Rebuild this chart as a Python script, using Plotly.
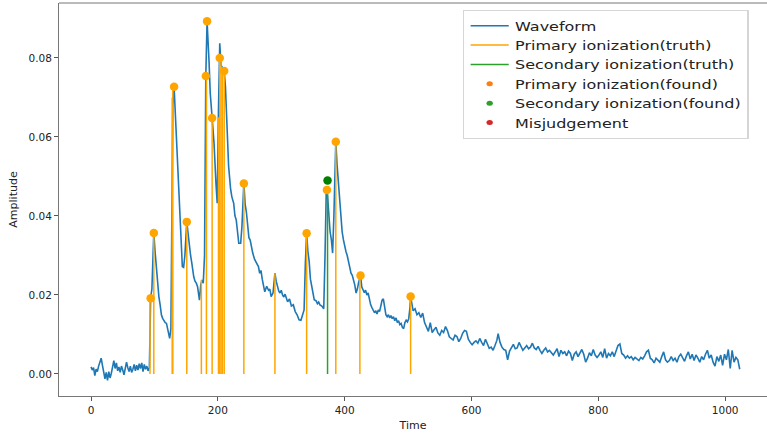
import plotly.graph_objects as go

# ---------------- data ----------------
wave_t = [0, 2, 4, 6, 8, 10, 12, 14, 16, 18, 20, 22, 24, 26, 28, 30, 32, 34, 36, 38,
          40, 42, 44, 46, 48, 50, 52, 54, 56, 58, 60, 62, 64, 66, 68, 70, 72, 74, 76, 78,
          80, 82, 84, 86, 88, 90, 92, 93, 94, 96, 98, 99, 101, 103, 105, 107, 109, 111, 113, 115,
          117, 119, 121, 123, 124, 126, 128, 129, 131, 133, 135, 137, 139, 141, 143, 144, 146, 148, 151, 153,
          155, 157, 159, 161, 162, 164, 166, 168, 170, 171, 173, 175, 177, 179, 181, 183, 186, 188, 191, 194,
          197, 199, 201, 203, 205, 208, 210, 212, 214, 217, 220, 222, 225, 227, 229, 231, 233, 236, 238, 241,
          243, 245, 247, 249, 251, 253, 255, 258, 261, 264, 266, 268, 270, 272, 274, 277, 280, 282, 284, 287,
          290, 292, 294, 296, 298, 300, 302, 304, 306, 308, 310, 313, 316, 319, 322, 325, 328, 331, 334, 336,
          338, 340, 342, 344, 346, 348, 350, 352, 355, 357, 359, 361, 364, 367, 369, 371, 373, 375, 377, 379,
          381, 383, 386, 388, 390, 392, 394, 396, 398, 400, 402, 404, 406, 408, 410, 412, 414, 416, 418, 420,
          422, 425, 427, 429, 431, 433, 435, 437, 439, 441, 443, 445, 447, 449, 451, 453, 455, 457, 459, 461,
          463, 465, 467, 469, 471, 473, 475, 477, 479, 481, 483, 485, 487, 489, 491, 493, 495, 497, 499, 501,
          503, 504, 508, 511, 514, 517, 520, 523, 526, 529, 532, 535, 538, 541, 544, 547, 550, 553, 556, 559,
          562, 565, 568, 571, 574, 577, 580, 583, 586, 589, 592, 595, 598, 601, 604, 607, 610, 613, 616, 619,
          622, 625, 628, 631, 634, 637, 640, 642, 645, 648, 651, 654, 657, 660, 663, 666, 669, 672, 675, 678,
          681, 684, 687, 690, 693, 696, 699, 702, 705, 708, 711, 714, 717, 720, 723, 726, 729, 732, 735, 738,
          741, 744, 747, 750, 753, 756, 759, 762, 765, 768, 771, 774, 777, 780, 783, 786, 789, 792, 795, 798,
          801, 804, 807, 810, 813, 816, 819, 822, 825, 828, 831, 834, 837, 840, 843, 846, 849, 852, 855, 858,
          861, 864, 867, 870, 873, 876, 879, 882, 885, 888, 891, 894, 897, 900, 903, 906, 909, 912, 915, 918,
          921, 924, 927, 930, 933, 936, 939, 942, 945, 948, 951, 954, 957, 960, 963, 966, 969, 972, 975, 978,
          981, 984, 987, 990, 993, 996, 999, 1002, 1005, 1008, 1011, 1014, 1017, 1020, 1023]

wave_amp = [0.0018, 0.0010, 0.0016, -0.0004, 0.0012, 0.0006, 0.0020, 0.0032, 0.0040, 0.0022,
            0.0008, -0.0012, 0.0004, -0.0016, 0.0006, -0.0010, 0.0002, 0.0024, 0.0034, 0.0014,
            0.0028, 0.0008, 0.0018, 0.0004, 0.0020, 0.0010, -0.0002, 0.0014, 0.0030, 0.0016,
            0.0006, 0.0020, 0.0004, 0.0012, 0.0024, 0.0008, 0.0022, 0.0010, 0.0026, 0.0014,
            0.0028, 0.0006, 0.0024, 0.0012, 0.0020, 0.0008, 0.0016, 0.0100, 0.0192, 0.0215,
            0.0330, 0.0357, 0.0310, 0.0270, 0.0225, 0.0196, 0.0175, 0.0150, 0.0141, 0.0135,
            0.0130, 0.0128, 0.0115, 0.0100, 0.0090, 0.0115, 0.0420, 0.0680, 0.0727, 0.0660,
            0.0590, 0.0520, 0.0449, 0.0381, 0.0300, 0.0272, 0.0270, 0.0300, 0.0385, 0.0350,
            0.0331, 0.0300, 0.0280, 0.0255, 0.0246, 0.0235, 0.0230, 0.0221, 0.0192, 0.0187,
            0.0225, 0.0238, 0.0230, 0.0300, 0.0754, 0.0893, 0.0795, 0.0711, 0.0648, 0.0584,
            0.0483, 0.0432, 0.0668, 0.0837, 0.0782, 0.0774, 0.0767, 0.0727, 0.0626, 0.0525,
            0.0470, 0.0449, 0.0432, 0.0400, 0.0390, 0.0360, 0.0331, 0.0331, 0.0373, 0.0483,
            0.0430, 0.0410, 0.0370, 0.0345, 0.0339, 0.0320, 0.0306, 0.0290, 0.0280, 0.0272,
            0.0255, 0.0262, 0.0240, 0.0225, 0.0208, 0.0222, 0.0212, 0.0215, 0.0196, 0.0205,
            0.0255, 0.0235, 0.0220, 0.0210, 0.0205, 0.0212, 0.0200, 0.0195, 0.0202, 0.0190,
            0.0183, 0.0190, 0.0172, 0.0175, 0.0158, 0.0150, 0.0137, 0.0136, 0.0150, 0.0162,
            0.0280, 0.0356, 0.0310, 0.0285, 0.0240, 0.0220, 0.0200, 0.0188, 0.0185, 0.0178,
            0.0182, 0.0175, 0.0172, 0.0165, 0.0300, 0.0466, 0.0450, 0.0390, 0.0360, 0.0340,
            0.0306, 0.0400, 0.0588, 0.0530, 0.0490, 0.0430, 0.0400, 0.0360, 0.0340, 0.0320,
            0.0310, 0.0300, 0.0285, 0.0270, 0.0255, 0.0250, 0.0238, 0.0225, 0.0205, 0.0215,
            0.0232, 0.0249, 0.0220, 0.0212, 0.0206, 0.0212, 0.0200, 0.0205, 0.0188, 0.0175,
            0.0168, 0.0160, 0.0155, 0.0160, 0.0152, 0.0162, 0.0158, 0.0172, 0.0187, 0.0190,
            0.0170, 0.0150, 0.0145, 0.0150, 0.0142, 0.0148, 0.0140, 0.0145, 0.0135, 0.0142,
            0.0130, 0.0135, 0.0125, 0.0128, 0.0118, 0.0115, 0.0130, 0.0136, 0.0132, 0.0140,
            0.0168, 0.0196, 0.0160, 0.0165, 0.0150, 0.0155, 0.0143, 0.0154, 0.0130, 0.0118,
            0.0108, 0.0130, 0.0105, 0.0112, 0.0118, 0.0104, 0.0098, 0.0110, 0.0105, 0.0120,
            0.0110, 0.0094, 0.0090, 0.0086, 0.0098, 0.0095, 0.0082, 0.0090, 0.0103, 0.0110,
            0.0108, 0.0088, 0.0080, 0.0074, 0.0080, 0.0084, 0.0078, 0.0090, 0.0080, 0.0072,
            0.0088, 0.0078, 0.0065, 0.0068, 0.0060, 0.0072, 0.0085, 0.0102, 0.0080, 0.0068,
            0.0062, 0.0060, 0.0036, 0.0058, 0.0068, 0.0075, 0.0064, 0.0066, 0.0080, 0.0068,
            0.0060, 0.0066, 0.0072, 0.0064, 0.0068, 0.0078, 0.0066, 0.0062, 0.0070, 0.0060,
            0.0052, 0.0060, 0.0066, 0.0056, 0.0060, 0.0054, 0.0048, 0.0056, 0.0064, 0.0044,
            0.0060, 0.0052, 0.0056, 0.0046, 0.0058, 0.0052, 0.0034, 0.0050, 0.0056, 0.0044,
            0.0052, 0.0062, 0.0050, 0.0030, 0.0040, 0.0054, 0.0046, 0.0062, 0.0048, 0.0042,
            0.0048, 0.0056, 0.0042, 0.0064, 0.0040, 0.0052, 0.0046, 0.0056, 0.0044, 0.0060,
            0.0072, 0.0076, 0.0052, 0.0048, 0.0040, 0.0046, 0.0040, 0.0044, 0.0036, 0.0042,
            0.0038, 0.0034, 0.0042, 0.0038, 0.0046, 0.0056, 0.0060, 0.0040, 0.0036, 0.0028,
            0.0040, 0.0034, 0.0030, 0.0044, 0.0056, 0.0036, 0.0030, 0.0034, 0.0044, 0.0034,
            0.0040, 0.0030, 0.0044, 0.0050, 0.0042, 0.0032, 0.0046, 0.0056, 0.0038, 0.0050,
            0.0034, 0.0048, 0.0040, 0.0030, 0.0044, 0.0036, 0.0050, 0.0060, 0.0040, 0.0048,
            0.0030, 0.0020, 0.0044, 0.0032, 0.0048, 0.0022, 0.0050, 0.0036, 0.0062, 0.0014,
            0.0060, 0.0030, 0.0042, 0.0036, 0.0012]

primary_truth_t = [93, 99, 128, 129, 151, 174, 182, 191, 201, 203, 205, 207, 210, 241, 290, 340, 386, 424, 504]
primary_truth_amp = [0.0192, 0.0357, 0.0700, 0.0727, 0.0385, 0.0238, 0.0754, 0.0648, 0.0650, 0.0800,
                     0.0790, 0.0775, 0.0767, 0.0483, 0.0255, 0.0356, 0.0588, 0.0249, 0.0196]

secondary_truth_t = [373]
secondary_truth_amp = [0.0475]

primary_found_t = [94, 99, 131, 151, 181, 183, 191, 203, 210, 241, 340, 372, 386, 425, 504]
primary_found_amp = [0.0192, 0.0357, 0.0727, 0.0385, 0.0754, 0.0893, 0.0648, 0.0800, 0.0767, 0.0482,
                     0.0356, 0.0466, 0.0588, 0.0249, 0.0196]

secondary_found_t = [373]
secondary_found_amp = [0.0490]

misjudge_t = []
misjudge_amp = []

x_ticks = [0, 200, 400, 600, 800, 1000]
y_ticks = [0.00, 0.02, 0.04, 0.06, 0.08]


def stems(ts, amps):
    xs, ys = [], []
    for t, a in zip(ts, amps):
        xs += [t, t, None]
        ys += [0, a, None]
    return xs, ys


FONT = "DejaVu Sans"
AXIS_GREY = "#777"
fig = go.Figure()

fig.add_trace(go.Scatter(x=wave_t, y=wave_amp, mode="lines", name="Waveform",
                         line=dict(color="#1f77b4", width=1.6)))

px_, py_ = stems(primary_truth_t, primary_truth_amp)
fig.add_trace(go.Scatter(x=px_, y=py_, mode="lines", name="Primary ionization(truth)",
                         line=dict(color="#FFA500", width=1.5)))

sx_, sy_ = stems(secondary_truth_t, secondary_truth_amp)
fig.add_trace(go.Scatter(x=sx_, y=sy_, mode="lines", name="Secondary ionization(truth)",
                         line=dict(color="#2ca02c", width=1.5)))

# legend-only entries for the point series
fig.add_trace(go.Scatter(x=[None], y=[None], mode="markers", name="Primary ionization(found)",
                         marker=dict(color="#ff7f0e", size=5)))
fig.add_trace(go.Scatter(x=[None], y=[None], mode="markers", name="Secondary ionization(found)",
                         marker=dict(color="#2ca02c", size=5)))
fig.add_trace(go.Scatter(x=misjudge_t or [None], y=misjudge_amp or [None], mode="markers",
                         name="Misjudgement", marker=dict(color="#d62728", size=5)))

# the drawn points
fig.add_trace(go.Scatter(x=primary_found_t, y=primary_found_amp, mode="markers", showlegend=False,
                         marker=dict(color="#FFA500", size=8.5)))
fig.add_trace(go.Scatter(x=secondary_found_t, y=secondary_found_amp, mode="markers", showlegend=False,
                         marker=dict(color="#008000", size=8.5)))

# top spine (matplotlib-style frame; right spine lies outside the picture)
fig.add_shape(type="line", xref="paper", yref="paper", x0=0, x1=1, y0=1, y1=1,
              line=dict(color=AXIS_GREY, width=1))

fig.update_layout(
    width=767, height=433,
    margin=dict(l=59, r=0, t=3, b=37),
    paper_bgcolor="white", plot_bgcolor="white",
    font=dict(family=FONT, color="#222", size=10.5),
    legend=dict(x=(463 - 59) / 708, y=1 - (10 - 3) / 393, xanchor="left", yanchor="top",
                font=dict(family=FONT, size=12.6, color="#222"),
                bordercolor="#d6d6d6", borderwidth=1, bgcolor="white",
                tracegroupgap=0),
    xaxis=dict(range=[-50.5, 1066], tickvals=x_ticks, ticktext=[str(v) for v in x_ticks],
               ticks="outside", ticklen=4, tickcolor="#555", showline=True, linecolor=AXIS_GREY,
               linewidth=1, mirror=False, showgrid=False, zeroline=False,
               title=dict(text="Time", font=dict(size=11), standoff=6)),
    yaxis=dict(range=[-0.00557, 0.0939], tickvals=y_ticks, tickformat=".2f",
               ticks="outside", ticklen=4, tickcolor="#555", showline=True, linecolor=AXIS_GREY,
               linewidth=1, mirror=False, showgrid=False, zeroline=False,
               title=dict(text="Amplitude", font=dict(size=11), standoff=8)),
)

post = """
document.documentElement.style.margin = '0';
document.documentElement.style.padding = '0';
document.documentElement.style.overflow = 'hidden';
document.body.style.margin = '0';
document.body.style.padding = '0';
document.body.style.overflow = 'hidden';
(function () {
  var gd = document.getElementById('{plot_id}');
  if (!gd) return;
  var lg = gd.querySelector('g.legend');
  if (!lg) return;
  var t = lg.getAttribute('transform') || '';
  if (t.indexOf('scale') < 0) { lg.setAttribute('transform', t + ' scale(1.27,1)'); }
})();
"""

fig.write_html("out.html", post_script=post, config={"displayModeBar": False, "responsive": False})
